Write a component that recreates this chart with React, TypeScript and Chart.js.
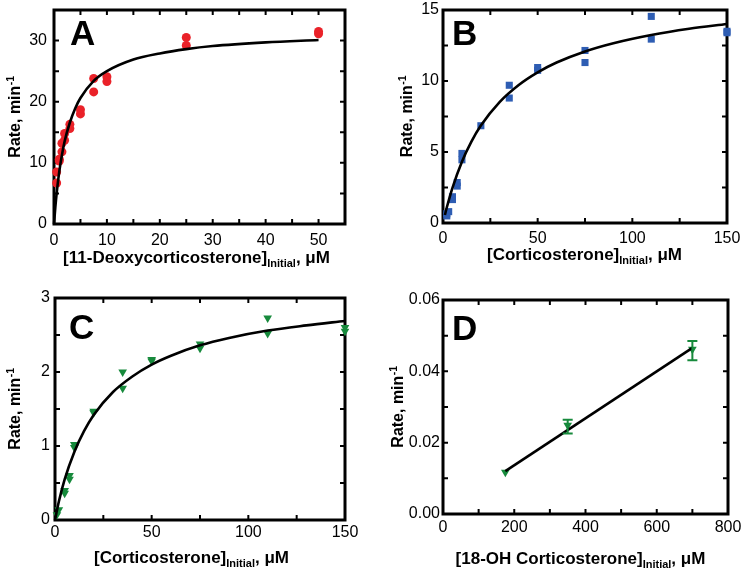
import React, { useEffect, useRef } from "react";
import { Chart, registerables } from "chart.js";
Chart.register(...registerables);

const FONT = '"Liberation Sans", Arial, Helvetica, sans-serif';

// ---------- Panel A : 11-Deoxycorticosterone ----------
const A_X = [0.5, 0.5, 1, 1, 1.5, 1.5, 2, 2, 3, 3, 5, 5, 7.5, 7.5, 10, 10, 25, 25, 50, 50];
const A_Y = [6.7, 8.5, 10.3, 10.6, 11.8, 13.2, 13.7, 14.8, 15.6, 16.3, 18.0, 18.7, 21.6, 23.8, 23.3, 24.1, 29.2, 30.5, 31.1, 31.5];
const A_FIT_X = [0, 0.25, 0.5, 1, 1.5, 2, 3, 4, 5, 7.5, 10, 15, 20, 25, 30, 40, 50];
const A_FIT_Y = [0, 2.7, 5.0, 8.6, 11.3, 13.5, 16.6, 18.9, 20.6, 23.4, 25.0, 26.9, 27.9, 28.6, 29.1, 29.7, 30.1];
const A_XTICKS = [0, 10, 20, 30, 40, 50];
const A_YTICKS = [0, 10, 20, 30];
const A_XMARKS = [5, 10, 15, 20, 25, 30, 35, 40, 45, 50];
const A_YMARKS = [5, 10, 15, 20, 25, 30];

// ---------- Panel B : Corticosterone (blue) ----------
const B_X = [2, 2, 3, 5, 5, 7.5, 7.5, 10, 10, 20, 35, 35, 50, 50, 75, 75, 110, 110, 150, 150];
const B_Y = [0.5, 0.65, 0.8, 1.65, 1.85, 2.6, 2.85, 4.45, 4.9, 6.85, 8.8, 9.7, 10.75, 10.95, 11.3, 12.15, 12.95, 14.55, 13.4, 13.5];
const B_FIT_X = [1, 2, 5, 10, 15, 20, 30, 40, 50, 60, 75, 90, 110, 130, 150];
const B_FIT_Y = [0.56, 1.09, 2.48, 4.32, 5.73, 6.86, 8.53, 9.72, 10.61, 11.3, 12.08, 12.66, 13.24, 13.68, 14.02];
const B_XTICKS = [0, 50, 100, 150];
const B_YTICKS = [0, 5, 10, 15];
const B_XMARKS = [25, 50, 75, 100, 125];
const B_YMARKS = [2.5, 5, 7.5, 10, 12.5];

// ---------- Panel C : Corticosterone (green) ----------
const C_X = [1, 2, 5, 5, 7.5, 7.5, 10, 10, 20, 20, 35, 35, 50, 50, 75, 75, 110, 110, 150, 150];
const C_Y = [0.07, 0.14, 0.36, 0.4, 0.55, 0.6, 0.98, 1.02, 1.45, 1.47, 1.78, 2.0, 2.15, 2.17, 2.32, 2.38, 2.52, 2.73, 2.55, 2.6];
const C_FIT_X = [0, 2, 5, 10, 15, 20, 30, 40, 50, 60, 75, 90, 110, 130, 150];
const C_FIT_Y = [0, 0.25, 0.55, 0.92, 1.2, 1.42, 1.73, 1.94, 2.1, 2.22, 2.36, 2.46, 2.56, 2.63, 2.69];
const C_XTICKS = [0, 50, 100, 150];
const C_YTICKS = [0, 1, 2, 3];
const C_XMARKS = [25, 50, 75, 100, 125];
const C_YMARKS = [0.5, 1, 1.5, 2, 2.5];

// ---------- Panel D : 18-OH Corticosterone ----------
const D_X = [175, 350, 700];
const D_Y = [0.0117, 0.0249, 0.0462];
const D_ERR_LO = [0.0117, 0.0226, 0.0431];
const D_ERR_HI = [0.0117, 0.0264, 0.0485];
const D_FIT_X = [175, 700];
const D_FIT_Y = [0.012, 0.0466];
const D_XTICKS = [0, 200, 400, 600, 800];
const D_YTICKS = [0, 0.02, 0.04, 0.06];
const D_XMARKS = [100, 200, 300, 400, 500, 600, 700];
const D_YMARKS = [0.01, 0.02, 0.03, 0.04, 0.05];

const RED = "#ea2229";
const BLUE = "#2e5db3";
const GREEN = "#178a3c";

const zip = (xs: number[], ys: number[]) => xs.map((x, i) => ({ x, y: ys[i] }));

interface Spec {
  letter: string;
  xMin: number; xMax: number; yMin: number; yMax: number;
  xTicks: number[]; yTicks: number[]; xMarks: number[]; yMarks: number[];
  points: { x: number; y: number }[];
  fit: { x: number; y: number }[];
  color: string; pointStyle: string; radius: number; rotation: number;
  err?: { x: number; lo: number; hi: number }[];
  xTitle: [string, string, string];
  yDecimals: number;
  box: { left: number; top: number; w: number; h: number };
  yW: number; xH: number; padR: number; padT: number;
  xTickPad: number; yTickPad: number;
  letterDx: number; letterDy: number;
  xTitleCx: number; xTitleBase: number; yTitleCx: number;
  smooth: boolean;
}

const SPECS: Spec[] = [
  {
    letter: "A", xMin: 0, xMax: 55, yMin: 0, yMax: 35,
    xTicks: A_XTICKS, yTicks: A_YTICKS, xMarks: A_XMARKS, yMarks: A_YMARKS,
    points: zip(A_X, A_Y), fit: zip(A_FIT_X, A_FIT_Y),
    color: RED, pointStyle: "circle", radius: 4.5, rotation: 0,
    xTitle: ["[11-Deoxycorticosterone]", "Initial", ", μM"], yDecimals: 0,
    box: { left: 0, top: 0, w: 372, h: 286 },
    yW: 54, xH: 62, padR: 27, padT: 10, xTickPad: 7, yTickPad: 7,
    letterDx: 16, letterDy: 35, xTitleCx: 196.5, xTitleBase: 263, yTitleCx: 16, smooth: true,
  },
  {
    letter: "B", xMin: 0, xMax: 150, yMin: 0, yMax: 15,
    xTicks: B_XTICKS, yTicks: B_YTICKS, xMarks: B_XMARKS, yMarks: B_YMARKS,
    points: zip(B_X, B_Y), fit: zip(B_FIT_X, B_FIT_Y),
    color: BLUE, pointStyle: "rect", radius: 5, rotation: 0,
    xTitle: ["[Corticosterone]", "Initial", ", μM"], yDecimals: 0,
    box: { left: 372, top: 0, w: 373, h: 286 },
    yW: 71, xH: 63, padR: 18, padT: 10, xTickPad: 6, yTickPad: 4,
    letterDx: 9, letterDy: 35, xTitleCx: 212.5, xTitleBase: 259.5, yTitleCx: 36, smooth: true,
  },
  {
    letter: "C", xMin: 0, xMax: 150, yMin: 0, yMax: 3,
    xTicks: C_XTICKS, yTicks: C_YTICKS, xMarks: C_XMARKS, yMarks: C_YMARKS,
    points: zip(C_X, C_Y), fit: zip(C_FIT_X, C_FIT_Y),
    color: GREEN, pointStyle: "triangle", radius: 5, rotation: 180,
    xTitle: ["[Corticosterone]", "Initial", ", μM"], yDecimals: 0,
    box: { left: 0, top: 286, w: 372, h: 286 },
    yW: 55, xH: 52, padR: 27, padT: 12, xTickPad: 3, yTickPad: 5,
    letterDx: 14, letterDy: 41, xTitleCx: 191.5, xTitleBase: 277, yTitleCx: 16, smooth: true,
  },
  {
    letter: "D", xMin: 0, xMax: 800, yMin: 0, yMax: 0.06,
    xTicks: D_XTICKS, yTicks: D_YTICKS, xMarks: D_XMARKS, yMarks: D_YMARKS,
    points: zip(D_X, D_Y), fit: zip(D_FIT_X, D_FIT_Y),
    color: GREEN, pointStyle: "triangle", radius: 5, rotation: 180,
    err: D_X.map((x, i) => ({ x, lo: D_ERR_LO[i], hi: D_ERR_HI[i] })),
    xTitle: ["[18-OH Corticosterone]", "Initial", ", μM"], yDecimals: 2,
    box: { left: 372, top: 286, w: 373, h: 286 },
    yW: 71, xH: 58, padR: 17, padT: 14, xTickPad: 4, yTickPad: 3,
    letterDx: 9, letterDy: 40, xTitleCx: 208.5, xTitleBase: 278, yTitleCx: 27, smooth: false,
  },
];

const TICK = 5;

function Panel({ spec }: { spec: Spec }) {
  const ref = useRef<HTMLCanvasElement>(null);
  useEffect(() => {
    const s = spec;
    const canvas = ref.current as HTMLCanvasElement;
    const plugin = {
      id: "decor" + s.letter,
      beforeDatasetsDraw(chart: any) {
        const ctx = chart.ctx as CanvasRenderingContext2D;
        const a = chart.chartArea;
        const xs = chart.scales.x, ys = chart.scales.y;
        ctx.save();
        ctx.strokeStyle = "#000";
        ctx.lineWidth = 2;
        ctx.beginPath();
        for (const v of s.xMarks) {
          const px = xs.getPixelForValue(v);
          ctx.moveTo(px, a.bottom); ctx.lineTo(px, a.bottom - TICK);
          ctx.moveTo(px, a.top); ctx.lineTo(px, a.top + TICK);
        }
        for (const v of s.yMarks) {
          const py = ys.getPixelForValue(v);
          ctx.moveTo(a.left, py); ctx.lineTo(a.left + TICK, py);
          ctx.moveTo(a.right, py); ctx.lineTo(a.right - TICK, py);
        }
        ctx.stroke();
        ctx.lineWidth = 3;
        ctx.strokeRect(a.left, a.top, a.right - a.left, a.bottom - a.top);
        ctx.restore();
      },
      afterDatasetsDraw(chart: any) {
        if (!s.err) return;
        const ctx = chart.ctx as CanvasRenderingContext2D;
        const xs = chart.scales.x, ys = chart.scales.y;
        ctx.save();
        ctx.strokeStyle = s.color;
        ctx.lineWidth = 2;
        ctx.beginPath();
        for (const e of s.err) {
          if (e.hi - e.lo < 1e-9) continue;
          const px = xs.getPixelForValue(e.x);
          const pl = ys.getPixelForValue(e.lo);
          const ph = ys.getPixelForValue(e.hi);
          ctx.moveTo(px, pl); ctx.lineTo(px, ph);
          ctx.moveTo(px - 5, pl); ctx.lineTo(px + 5, pl);
          ctx.moveTo(px - 5, ph); ctx.lineTo(px + 5, ph);
        }
        ctx.stroke();
        ctx.restore();
      },
      afterDraw(chart: any) {
        const ctx = chart.ctx as CanvasRenderingContext2D;
        const a = chart.chartArea;
        ctx.save();
        ctx.fillStyle = "#000";
        // panel letter
        ctx.font = `bold 35px ${FONT}`;
        ctx.textBaseline = "alphabetic";
        ctx.textAlign = "left";
        ctx.fillText(s.letter, a.left + s.letterDx, a.top + s.letterDy);
        // x title with subscript
        const big = `bold 17px ${FONT}`;
        const small = `bold 11px ${FONT}`;
        ctx.font = big;
        const w1 = ctx.measureText(s.xTitle[0]).width;
        const w3 = ctx.measureText(s.xTitle[2]).width;
        ctx.font = small;
        const w2 = ctx.measureText(s.xTitle[1]).width;
        let x0 = s.xTitleCx - (w1 + w2 + w3) / 2;
        ctx.font = big;
        ctx.fillText(s.xTitle[0], x0, s.xTitleBase);
        ctx.font = small;
        ctx.fillText(s.xTitle[1], x0 + w1, s.xTitleBase + 4);
        ctx.font = big;
        ctx.fillText(s.xTitle[2], x0 + w1 + w2, s.xTitleBase);
        // y title with superscript
        const ybig = `bold 16px ${FONT}`;
        const ysmall = `bold 10.5px ${FONT}`;
        ctx.translate(s.yTitleCx, (a.top + a.bottom) / 2);
        ctx.rotate(-Math.PI / 2);
        ctx.textBaseline = "middle";
        ctx.font = ybig;
        const m = "Rate, min";
        const sup = "-1";
        const wm = ctx.measureText(m).width;
        ctx.font = ysmall;
        const ws = ctx.measureText(sup).width;
        const y0 = -(wm + ws) / 2;
        ctx.font = ybig;
        ctx.fillText(m, y0, 0);
        ctx.font = ysmall;
        ctx.fillText(sup, y0 + wm + 0.5, -5);
        ctx.restore();
      },
    };

    const chart = new Chart(canvas, {
      type: "scatter",
      data: {
        datasets: [
          {
            data: s.fit,
            showLine: true,
            borderColor: "#000",
            borderWidth: 2.6,
            pointRadius: 0,
            cubicInterpolationMode: s.smooth ? "monotone" : "default",
            clip: false,
          } as any,
          {
            data: s.points,
            showLine: false,
            backgroundColor: s.color,
            borderColor: s.color,
            borderWidth: 0,
            pointStyle: s.pointStyle,
            pointRadius: s.radius,
            rotation: s.rotation,
            clip: false,
          } as any,
        ],
      },
      options: {
        responsive: false,
        animation: false,
        events: [],
        layout: { padding: { left: 0, right: s.padR, top: s.padT, bottom: 0 } },
        plugins: { legend: { display: false }, tooltip: { enabled: false } },
        scales: {
          x: {
            type: "linear",
            min: s.xMin,
            max: s.xMax,
            grid: { display: false, drawTicks: false },
            border: { display: false },
            ticks: {
              color: "#000",
              font: { family: FONT, size: 16 },
              padding: s.xTickPad,
              maxRotation: 0,
              autoSkip: false,
            },
            afterBuildTicks: (sc: any) => {
              sc.ticks = s.xTicks.map((v) => ({ value: v }));
            },
            afterFit: (sc: any) => {
              sc.height = s.xH;
              sc.paddingLeft = 0;
              sc.paddingRight = 0;
            },
          },
          y: {
            type: "linear",
            min: s.yMin,
            max: s.yMax,
            grid: { display: false, drawTicks: false },
            border: { display: false },
            ticks: {
              color: "#000",
              font: { family: FONT, size: 16 },
              padding: s.yTickPad,
              autoSkip: false,
              callback: (v: any) => Number(v).toFixed(s.yDecimals),
            },
            afterBuildTicks: (sc: any) => {
              sc.ticks = s.yTicks.map((v) => ({ value: v }));
            },
            afterFit: (sc: any) => {
              sc.width = s.yW;
              sc.paddingTop = 0;
              sc.paddingBottom = 0;
            },
          },
        },
      } as any,
      plugins: [plugin],
    });
    return () => chart.destroy();
  }, [spec]);
  return (
    <canvas
      ref={ref}
      width={spec.box.w}
      height={spec.box.h}
      style={{
        position: "absolute",
        left: spec.box.left,
        top: spec.box.top,
        width: spec.box.w,
        height: spec.box.h,
        display: "block",
      }}
    />
  );
}

export default function App() {
  return (
    <div
      style={{
        position: "absolute",
        left: 0,
        top: 0,
        width: 745,
        height: 572,
        background: "#fff",
        overflow: "hidden",
      }}
    >
      {SPECS.map((s) => (
        <Panel key={s.letter} spec={s} />
      ))}
    </div>
  );
}
